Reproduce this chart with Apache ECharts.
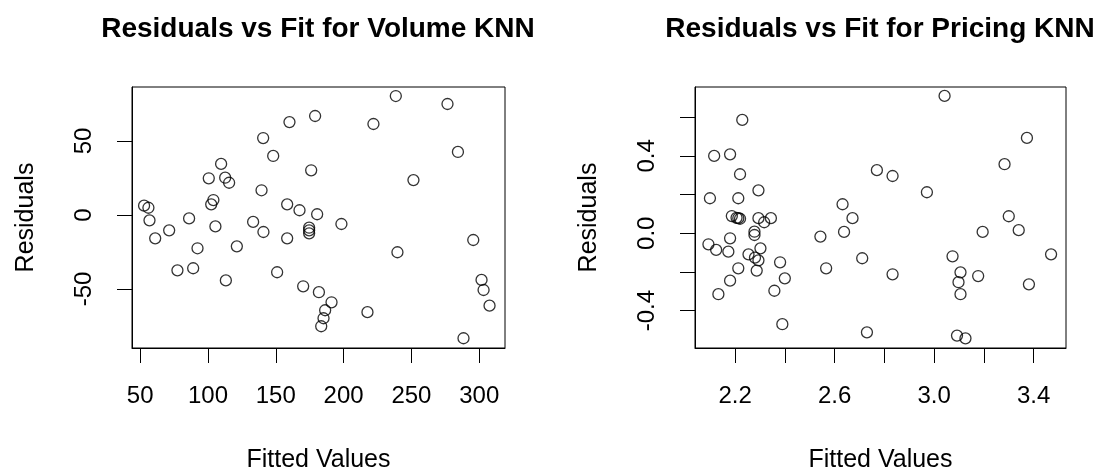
<!DOCTYPE html>
<html>
<head>
<meta charset="utf-8">
<script src="https://cdn.jsdelivr.net/npm/echarts@6/dist/echarts.min.js"></script>
<style>
  html, body { margin: 0; padding: 0; background: #fff; }
  #chart { width: 1115px; height: 473px; }
</style>
</head>
<body>
<div id="chart"></div>
<script>
// Volume KNN: fitted values and residuals
const volFit = [52.9, 56.1, 56.9, 61.1, 71.4, 77.5, 86.1, 89.1, 92.3, 100.6, 102.4, 104.0, 105.5, 109.7,
  112.7, 115.6, 113.2, 121.3, 133.3, 139.5, 140.7, 140.9, 148.1, 151.0, 158.4, 158.4, 160.1, 167.5,
  170.2, 174.6, 174.6, 174.6, 176.1, 179.0, 180.5, 181.8, 191.1, 186.4, 185.2, 183.5, 198.4, 222.0,
  217.6, 238.5, 239.7, 251.5, 276.6, 284.3, 288.4, 295.6, 301.7, 303.2, 307.6];
const volRes = [6.3, 4.9, -3.6, -15.8, -10.4, -37.4, -2.3, -36.0, -22.5, 24.8, 7.2, 10.1, -7.7, 34.5,
  25.2, 21.8, -44.2, -21.2, -4.7, 16.7, 52.0, -11.5, 39.9, -38.7, 7.2, -15.8, 62.8, 3.2,
  -48.2, -8.6, -10.4, -12.4, 30.2, 66.9, 0.5, -52.2, -59.0, -64.4, -69.8, -75.2, -6.1, 61.5,
  -65.7, 80.4, -25.2, 23.6, 75.0, 42.6, -83.3, -16.9, -43.9, -50.7, -61.3];

// Pricing KNN: fitted values and residuals
const priceFit = [2.229, 2.116, 2.180, 2.220, 2.294, 2.099, 2.213, 2.187, 2.206, 2.213, 2.220, 2.294,
  2.317, 2.344, 2.278, 2.278, 2.180, 2.093, 2.124, 2.173, 2.302, 2.254, 2.280, 2.294, 2.381, 2.213,
  2.287, 2.400, 2.180, 2.358, 2.133, 2.390, 2.543, 2.566, 2.632, 2.672, 2.638, 2.711, 2.730, 2.770,
  2.833, 2.833, 2.971, 3.042, 3.074, 3.106, 3.098, 3.106, 3.092, 3.126, 3.177, 3.195, 3.283, 3.300,
  3.340, 3.373, 3.381, 3.470];
const priceRes = [0.586, 0.400, 0.408, 0.305, 0.222, 0.181, 0.181, 0.089, 0.080, 0.078, 0.075, 0.078,
  0.057, 0.078, 0.008, -0.009, -0.026, -0.057, -0.086, -0.095, -0.078, -0.109, -0.126, -0.140, -0.150, -0.181,
  -0.193, -0.233, -0.245, -0.297, -0.315, -0.470, -0.017, -0.181, 0.150, 0.078, 0.007, -0.129, -0.512, 0.326,
  0.296, -0.212, 0.212, 0.710, -0.119, -0.202, -0.253, -0.315, -0.529, -0.543, -0.221, 0.007, 0.357, 0.088,
  0.016, 0.493, -0.264, -0.109];

// tick positions
const volXTicks = [50, 100, 150, 200, 250, 300];
const volYTicks = [-50, 0, 50];
const priceXTicks = [2.2, 2.4, 2.6, 2.8, 3.0, 3.2, 3.4];
const priceXLabels = [2.2, 2.6, 3.0, 3.4];
const priceYTicks = [-0.4, -0.2, 0.0, 0.2, 0.4, 0.6];
const priceYLabels = [-0.4, 0.0, 0.4];

const FONT = 'Liberation Sans, Arial, sans-serif';
const pairs = (xs, ys) => xs.map((x, i) => [x, ys[i]]);

function xAxis(idx, min, max, ticks, labels, fmt) {
  return {
    type: 'value', gridIndex: idx, min: min, max: max,
    name: 'Fitted Values', nameLocation: 'middle', nameGap: 100,
    nameTextStyle: { fontFamily: FONT, fontSize: 25, color: '#000' },
    axisLine: { show: true, onZero: false, lineStyle: { color: '#000', width: 1 } },
    axisTick: { show: true, length: 15, customValues: ticks, lineStyle: { color: '#000' } },
    axisLabel: { customValues: labels, margin: 36, fontFamily: FONT, fontSize: 24, color: '#000', formatter: fmt },
    splitLine: { show: false }
  };
}
function yAxis(idx, min, max, ticks, labels, fmt) {
  return {
    type: 'value', gridIndex: idx, min: min, max: max,
    name: 'Residuals', nameLocation: 'middle', nameGap: 93, nameRotate: 90,
    nameTextStyle: { fontFamily: FONT, fontSize: 25, color: '#000' },
    axisLine: { show: true, onZero: false, lineStyle: { color: '#000', width: 1 } },
    axisTick: { show: true, length: 15, customValues: ticks, lineStyle: { color: '#000' } },
    axisLabel: { customValues: labels, rotate: 90, margin: 36, fontFamily: FONT, fontSize: 24, color: '#000', formatter: fmt },
    splitLine: { show: false }
  };
}

const chart = echarts.init(document.getElementById('chart'));
const option = {
  animation: false,
  backgroundColor: '#fff',
  graphic: [
    { type: 'text', x: 318, y: 29, style: { text: 'Residuals vs Fit for Volume KNN', textAlign: 'center', textVerticalAlign: 'middle', font: 'bold 28px ' + FONT, fill: '#000' } },
    { type: 'text', x: 880, y: 29, style: { text: 'Residuals vs Fit for Pricing KNN', textAlign: 'center', textVerticalAlign: 'middle', font: 'bold 28px ' + FONT, fill: '#000' } }
  ],
  grid: [
    { left: 132, right: 610, top: 87, bottom: 125, outerBoundsMode: 'none', show: true, borderColor: '#000', borderWidth: 1, backgroundColor: 'transparent' },
    { left: 695, right: 49, top: 87, bottom: 125, outerBoundsMode: 'none', show: true, borderColor: '#000', borderWidth: 1, backgroundColor: 'transparent' }
  ],
  xAxis: [
    xAxis(0, 44, 319, volXTicks, volXTicks, v => String(v)),
    xAxis(1, 2.039, 3.53, priceXTicks, priceXLabels, v => v.toFixed(1))
  ],
  yAxis: [
    yAxis(0, -89.9, 86.5, volYTicks, volYTicks, v => String(v)),
    yAxis(1, -0.593, 0.756, priceYTicks, priceYLabels, v => v.toFixed(1))
  ],
  series: [
    {
      type: 'scatter', xAxisIndex: 0, yAxisIndex: 0, data: pairs(volFit, volRes),
      symbol: 'circle', symbolSize: 11,
      itemStyle: { color: 'transparent', borderColor: '#000', borderWidth: 1.3 }
    },
    {
      type: 'scatter', xAxisIndex: 1, yAxisIndex: 1, data: pairs(priceFit, priceRes),
      symbol: 'circle', symbolSize: 11,
      itemStyle: { color: 'transparent', borderColor: '#000', borderWidth: 1.3 }
    }
  ]
};
chart.setOption(option);
window.addEventListener('resize', () => { chart.resize(); });
</script>
</body>
</html>
